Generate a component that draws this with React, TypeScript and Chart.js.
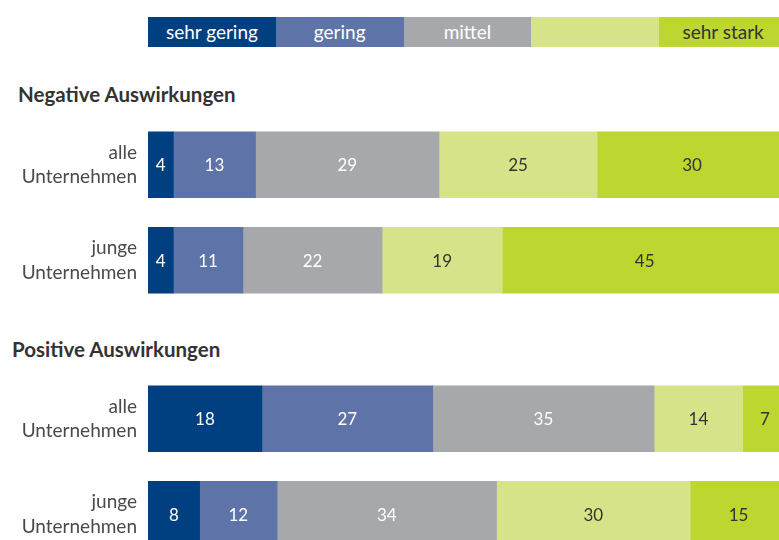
import React, { useEffect, useRef } from 'react';
import Chart from 'chart.js/auto';

// ---- Data ----
const categories: string[][] = [['alle', 'Unternehmen'], ['junge', 'Unternehmen']];
const levels = ['sehr gering', 'gering', 'mittel', '', 'sehr stark'];
const levelColors = ['#003f80', '#5e74a8', '#a7a8ac', '#d6e388', '#bdd630'];
const levelTextColors = ['#ffffff', '#ffffff', '#ffffff', '#333333', '#333333'];

const sectionTitles = ['Negative Auswirkungen', 'Positive Auswirkungen'];

// Negative Auswirkungen: [alle Unternehmen, junge Unternehmen]
const negSehrGering = [4, 4];
const negGering = [13, 11];
const negMittel = [29, 22];
const negStark = [25, 19];
const negSehrStark = [30, 45];

// Positive Auswirkungen: [alle Unternehmen, junge Unternehmen]
const posSehrGering = [18, 8];
const posGering = [27, 12];
const posMittel = [35, 34];
const posStark = [14, 30];
const posSehrStark = [7, 15];

const negSeries = [negSehrGering, negGering, negMittel, negStark, negSehrStark];
const posSeries = [posSehrGering, posGering, posMittel, posStark, posSehrStark];

const FONT = 'Lato, "Open Sans", sans-serif';

const valueLabelPlugin = {
  id: 'valueLabels',
  afterDatasetsDraw(chart: any) {
    const ctx = chart.ctx;
    ctx.save();
    ctx.font = `17px ${FONT}`;
    ctx.textAlign = 'center';
    ctx.textBaseline = 'middle';
    chart.data.datasets.forEach((ds: any, di: number) => {
      const meta = chart.getDatasetMeta(di);
      meta.data.forEach((el: any, i: number) => {
        const v = ds.rawValues[i];
        ctx.fillStyle = levelTextColors[di];
        ctx.fillText(String(v), (el.x + el.base) / 2, el.y + 1);
      });
    });
    ctx.restore();
  },
};

function StackedChart({ series }: { series: number[][] }) {
  const ref = useRef<HTMLCanvasElement | null>(null);
  useEffect(() => {
    if (!ref.current) return;
    const sums = categories.map((_, i) => series.reduce((s, arr) => s + arr[i], 0));
    const chart = new Chart(ref.current, {
      type: 'bar',
      data: {
        labels: categories,
        datasets: series.map((arr, di) => ({
          label: levels[di],
          data: arr.map((v, i) => (v / sums[i]) * 100),
          rawValues: arr,
          backgroundColor: levelColors[di],
          borderWidth: 0,
          barThickness: 66,
        })) as any,
      },
      options: {
        indexAxis: 'y',
        responsive: false,
        animation: false,
        layout: { padding: 0 },
        plugins: { legend: { display: false }, tooltip: { enabled: false } },
        scales: {
          x: { stacked: true, min: 0, max: 100, display: false },
          y: {
            stacked: true,
            grid: { display: false, drawTicks: false },
            border: { display: false },
            ticks: {
              color: '#4a4a4a',
              padding: 11,
              font: { family: FONT, size: 19, lineHeight: 1.3 },
            },
            afterFit: (s: any) => {
              s.width = 148;
              s.paddingTop = 0;
              s.paddingBottom = 0;
            },
          },
        },
      } as any,
      plugins: [valueLabelPlugin],
    });
    return () => chart.destroy();
  }, [series]);
  return <canvas ref={ref} width={787} height={191} style={{ display: 'block' }} />;
}

export default function App() {
  return (
    <div
      style={{
        position: 'absolute',
        left: 0,
        top: 0,
        width: 779,
        height: 540,
        overflow: 'hidden',
        background: '#ffffff',
        fontFamily: FONT,
      }}
    >
      <div style={{ position: 'absolute', left: 148, top: 17, display: 'flex' }}>
        {levels.map((l, i) => (
          <div
            key={i}
            style={{
              width: 127.8,
              height: 30,
              lineHeight: '30px',
              background: levelColors[i],
              color: levelTextColors[i],
              textAlign: 'center',
              fontSize: 19,
              whiteSpace: 'nowrap',
            }}
          >
            {l}
          </div>
        ))}
      </div>
      <div
        style={{
          position: 'absolute',
          left: 18,
          top: 84,
          fontSize: 20.5,
          lineHeight: '20px',
          fontWeight: 700,
          color: '#333333',
          whiteSpace: 'nowrap',
        }}
      >
        {sectionTitles[0]}
      </div>
      <div style={{ position: 'absolute', left: 0, top: 117 }}>
        <StackedChart series={negSeries} />
      </div>
      <div
        style={{
          position: 'absolute',
          left: 12,
          top: 339,
          fontSize: 20.5,
          lineHeight: '20px',
          fontWeight: 700,
          color: '#333333',
          whiteSpace: 'nowrap',
        }}
      >
        {sectionTitles[1]}
      </div>
      <div style={{ position: 'absolute', left: 0, top: 371 }}>
        <StackedChart series={posSeries} />
      </div>
    </div>
  );
}
